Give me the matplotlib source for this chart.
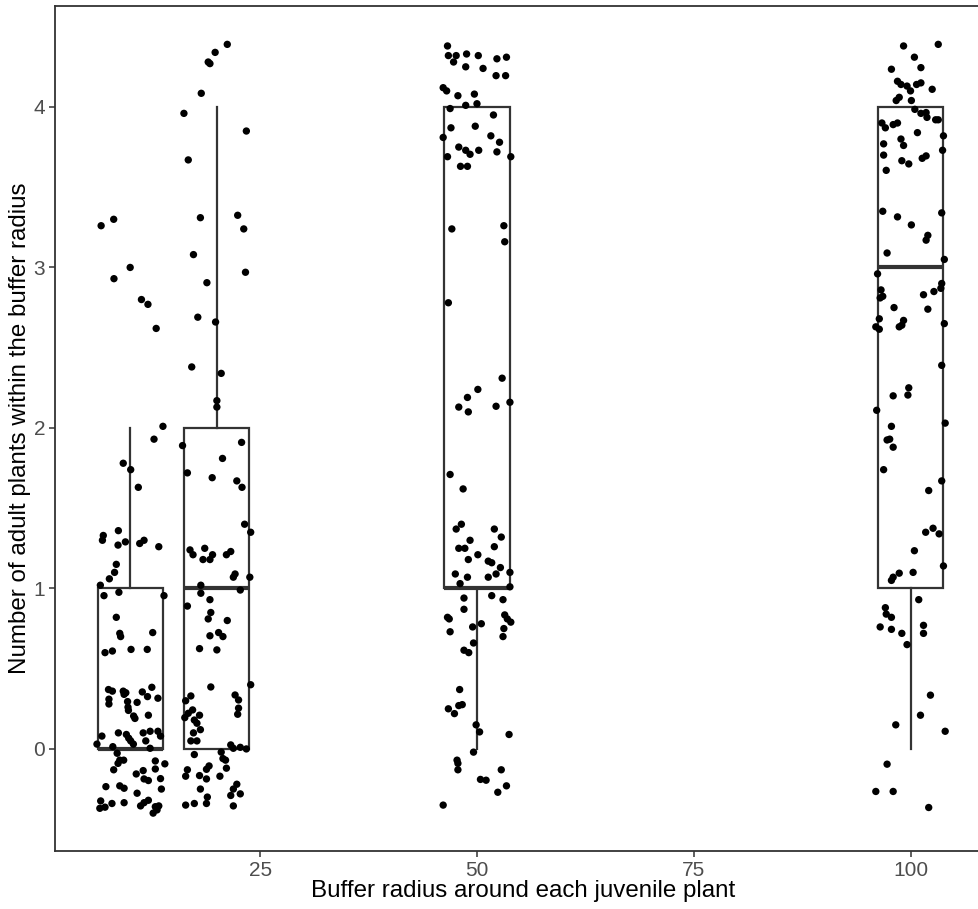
import matplotlib
matplotlib.use("Agg")
import matplotlib.pyplot as plt

# --- box summaries (buffer radius -> counts) ---
box_pos = [10, 20, 50, 100]
box_q1 = [0, 0, 1, 1]
box_med = [0, 1, 1, 3]
box_q3 = [1, 2, 4, 4]
box_lo = [0, 0, 0, 0]
box_hi = [2, 4, 4, 4]

# --- jittered points (x = buffer radius, y = count) ---
g10_x = [6.65, 8.1, 10.0, 8.13, 11.3, 12.05, 13.0,
         13.78, 12.75, 9.2, 10.06, 10.94,
         8.64, 6.9, 6.8, 8.6, 9.45, 11.1, 11.6, 13.3, 8.4, 8.2, 7.6, 6.56,
         6.98, 8.7, 13.9, 8.4, 8.8, 8.9, 12.6, 7.1, 7.95, 10.1, 11.97,
         7.5, 7.95, 7.55, 7.55, 9.2, 9.5, 9.3, 9.7, 9.75, 9.8, 10.8, 10.4,
         10.55, 11.4, 12.0, 12.5, 13.2, 12.1,
         6.17, 6.74, 8.64, 9.56, 9.83, 10.06, 10.37, 8.0, 11.5, 12.3, 11.8,
         12.3, 13.2, 13.5, 8.5, 8.8, 9.25, 8.6, 8.1, 12.9, 14.0, 12.9, 10.7,
         11.5, 11.6, 12.1, 13.5, 7.2, 8.8, 9.3, 13.6, 10.8, 6.6, 6.5, 7.1,
         7.9, 9.3, 11.2, 11.6, 12.1, 12.9, 13.3, 12.65, 13.1]
g10_y = [3.26, 3.30, 3.0, 2.93, 2.80, 2.77, 2.62,
         2.01, 1.93, 1.78, 1.74, 1.63,
         1.36, 1.33, 1.30, 1.27, 1.29, 1.28, 1.30, 1.26, 1.15, 1.10, 1.06, 1.02,
         0.955, 0.976, 0.955, 0.82, 0.72, 0.70, 0.725, 0.60, 0.61, 0.62, 0.62,
         0.37, 0.36, 0.31, 0.28, 0.36, 0.35, 0.34, 0.295, 0.26, 0.24, 0.29, 0.205,
         0.19, 0.355, 0.326, 0.384, 0.316, 0.21,
         0.03, 0.08, 0.10, 0.09, 0.067, 0.05, 0.03, 0.014, 0.10, 0.11, 0.05,
         0.004, 0.11, 0.08, -0.027, -0.07, -0.07, -0.09, -0.13, -0.075, -0.093,
         -0.125, -0.156, -0.135, -0.187, -0.197, -0.185, -0.235, -0.23, -0.245,
         -0.25, -0.276, -0.324, -0.37, -0.363, -0.34, -0.335, -0.355, -0.335,
         -0.32, -0.36, -0.355, -0.40, -0.38]

g20_x = [21.2, 19.8, 19.0, 19.2, 18.2, 16.2,
         23.4, 16.7, 18.1, 22.4, 23.1, 17.3, 23.3, 18.85, 17.8, 19.85,
         20.0, 20.0, 16.04, 22.85, 20.65, 16.6, 19.46, 22.3, 22.9, 17.1, 20.5,
         23.2, 23.9, 16.9, 17.25, 18.6, 18.4, 19.2, 19.5, 21.1, 21.6, 22.1,
         21.9, 23.8, 22.7, 18.15, 18.15, 19.2, 16.6, 19.3, 19.0, 21.2, 20.2,
         20.7, 19.2, 18.0, 20.0,
         19.3, 23.9, 22.1, 22.5, 22.5, 22.4, 17.0, 16.4, 17.2, 16.7, 16.3, 17.4,
         17.7, 18.1, 18.0, 17.3, 17.0, 17.7, 21.6, 21.9, 22.7, 23.4, 20.5, 20.7,
         21.0, 17.4, 21.1, 19.1, 18.8, 16.6, 16.4, 18.0, 18.8, 20.35, 18.1,
         22.3, 21.9, 22.7, 21.6, 18.9, 18.8, 16.4, 17.4, 21.9]
g20_y = [4.39, 4.34, 4.28, 4.27, 4.085, 3.96,
         3.85, 3.67, 3.31, 3.325, 3.24, 3.08, 2.97, 2.905, 2.69, 2.66,
         2.17, 2.13, 1.89, 1.91, 1.81, 1.72, 1.69, 1.67, 1.63, 2.38, 2.34,
         1.40, 1.35, 1.24, 1.21, 1.25, 1.18, 1.18, 1.21, 1.21, 1.23, 1.09,
         1.07, 1.07, 0.99, 1.02, 0.97, 0.93, 0.89, 0.85, 0.81, 0.80, 0.725,
         0.70, 0.705, 0.625, 0.617,
         0.386, 0.40, 0.336, 0.305, 0.254, 0.216, 0.33, 0.30, 0.243, 0.222, 0.195,
         0.18, 0.16, 0.12, 0.21, 0.10, 0.05, 0.05, 0.025, 0.004, 0.01, 0.0, -0.02,
         -0.06, -0.07, -0.035, -0.12, -0.106, -0.127, -0.13, -0.17, -0.166,
         -0.187, -0.17, -0.25, -0.22, -0.25, -0.28, -0.29, -0.30, -0.34, -0.35,
         -0.34, -0.355]

g50_x = [46.6, 46.7, 47.3, 47.6, 48.8, 50.15, 52.3, 53.4, 48.7, 50.7,
         52.2, 53.3, 46.1, 46.5, 47.8, 49.7, 48.7, 50.0, 46.9, 51.9, 47.0, 49.8,
         46.1, 51.6, 52.6, 47.9, 48.7, 49.2, 50.2, 52.3, 46.6, 53.9, 48.1, 48.9,
         47.1, 53.1, 53.2, 46.7,
         52.9, 50.1, 48.9, 47.9, 49.0, 52.2, 53.8, 46.9, 48.4,
         47.6, 48.2, 52.0, 52.8, 52.0, 49.2, 47.9, 48.6, 49.0, 50.1, 51.3, 51.7,
         52.7, 52.2, 47.5, 48.9, 48.05, 51.3, 53.8, 53.8, 51.7, 48.5, 48.5, 53.0,
         46.6, 46.8, 46.9, 53.2, 53.5, 53.9, 49.5, 50.5, 53.1, 53.0, 49.6, 48.5,
         49.05,
         48.0, 46.7, 47.4, 47.9, 48.3, 49.9, 50.3, 53.7, 49.6, 47.7, 47.8, 47.8,
         52.8, 50.4, 51.05, 53.4, 52.4, 46.1]
g50_y = [4.38, 4.32, 4.28, 4.32, 4.33, 4.32, 4.30, 4.31, 4.25, 4.24,
         4.195, 4.195, 4.12, 4.10, 4.07, 4.08, 4.01, 4.02, 3.99, 3.95, 3.87, 3.88,
         3.81, 3.82, 3.78, 3.75, 3.73, 3.705, 3.73, 3.72, 3.69, 3.69, 3.63, 3.63,
         3.24, 3.26, 3.16, 2.78,
         2.31, 2.24, 2.19, 2.13, 2.10, 2.135, 2.16, 1.71, 1.62,
         1.37, 1.40, 1.37, 1.32, 1.26, 1.30, 1.25, 1.25, 1.18, 1.21, 1.17, 1.16,
         1.13, 1.09, 1.09, 1.07, 1.03, 1.07, 1.10, 1.01, 0.955, 0.94, 0.87, 0.93,
         0.82, 0.81, 0.73, 0.835, 0.81, 0.79, 0.76, 0.78, 0.75, 0.70, 0.66, 0.615,
         0.60,
         0.37, 0.25, 0.22, 0.27, 0.276, 0.15, 0.106, 0.09, -0.02, -0.07, -0.09,
         -0.13, -0.13, -0.19, -0.195, -0.23, -0.27, -0.35]

g100_x = [99.2, 103.2, 100.45, 97.8, 101.2,
          98.5, 98.9, 99.6, 100.0, 100.7, 101.2, 102.5, 98.35, 98.7, 100.1,
          100.5, 101.2, 101.8, 101.9, 102.9, 103.2, 96.7, 97.1, 98.0, 98.5,
          100.8, 98.9, 99.2, 103.8, 96.9, 103.7, 96.9, 99.0, 99.8, 101.35, 101.8,
          97.2,
          96.8, 98.5, 100.1, 103.6, 102.0, 101.8, 97.3, 103.9, 96.2, 96.6, 96.8,
          96.5, 102.7, 103.5, 103.6, 101.5, 98.1, 102.0, 96.4, 96.0, 96.4, 99.2,
          99.0, 98.7, 103.9,
          103.6, 98.0, 99.8, 99.7, 96.1, 97.8, 97.3, 97.6, 98.0, 104.0, 96.9,
          103.6, 102.1,
          101.75, 102.6, 103.3, 100.45, 103.8, 97.8, 98.0, 98.7, 100.3, 100.95,
          97.1, 97.2, 97.8, 96.5, 97.8, 99.0, 101.5, 101.5, 99.6,
          102.3, 101.15, 98.3, 104.0, 97.3, 96.0, 98.0, 102.1]
g100_y = [4.38, 4.39, 4.31, 4.235, 4.245,
          4.16, 4.14, 4.13, 4.10, 4.14, 4.15, 4.11, 4.04, 4.06, 4.04,
          3.985, 3.96, 3.965, 3.935, 3.92, 3.92, 3.90, 3.87, 3.89, 3.90,
          3.84, 3.80, 3.76, 3.82, 3.77, 3.73, 3.70, 3.665, 3.645, 3.68, 3.695,
          3.605,
          3.35, 3.315, 3.265, 3.34, 3.20, 3.17, 3.09, 3.05, 2.96, 2.86, 2.82,
          2.81, 2.85, 2.87, 2.90, 2.83, 2.75, 2.74, 2.68, 2.63, 2.615, 2.67,
          2.64, 2.63, 2.65,
          2.39, 2.20, 2.25, 2.205, 2.11, 2.01, 1.925, 1.93, 1.88, 2.03, 1.74,
          1.67, 1.61,
          1.35, 1.375, 1.34, 1.235, 1.14, 1.05, 1.07, 1.095, 1.10, 0.93,
          0.88, 0.84, 0.82, 0.76, 0.745, 0.72, 0.77, 0.72, 0.65,
          0.335, 0.21, 0.15, 0.11, -0.095, -0.265, -0.265, -0.365]

x_ticks = [25, 50, 75, 100]
y_ticks = [0, 1, 2, 3, 4]

plt.rcParams["font.family"] = ["Liberation Sans", "DejaVu Sans"]

fig = plt.figure(figsize=(9.79, 9.09), dpi=100)
ax = fig.add_axes([55 / 979, 58 / 909, 924 / 979, 845 / 909])

stats = []
for q1, med, q3, lo, hi in zip(box_q1, box_med, box_q3, box_lo, box_hi):
    stats.append({"q1": q1, "med": med, "q3": q3, "whislo": lo, "whishi": hi,
                  "fliers": []})
ink = "#333333"
ax.bxp(stats, positions=box_pos, widths=7.5, showfliers=False, showcaps=False,
       patch_artist=True,
       boxprops=dict(facecolor="white", edgecolor=ink, linewidth=1.6),
       whiskerprops=dict(color=ink, linewidth=1.6),
       medianprops=dict(color=ink, linewidth=3.0, solid_capstyle="butt"),
       zorder=2)

for xs, ys in [(g10_x, g10_y), (g20_x, g20_y), (g50_x, g50_y), (g100_x, g100_y)]:
    ax.scatter(xs, ys, s=28, color="black", edgecolors="none", zorder=3)

ax.set_xlim(1.33, 107.9)
ax.set_ylim(-0.636, 4.629)
ax.set_xticks(x_ticks)
ax.set_xticklabels([str(v) for v in x_ticks])
ax.set_yticks(y_ticks)
ax.set_yticklabels([str(v) for v in y_ticks])

for side in ["top", "left", "bottom"]:
    ax.spines[side].set_color(ink)
    ax.spines[side].set_linewidth(1.3)
ax.spines["right"].set_visible(False)

ax.tick_params(axis="both", colors=ink, length=4, width=1.1,
               labelsize=15, labelcolor="#4D4D4D", pad=3)

# axis titles placed by hand (the source image is cropped on the right)
ax.set_xlabel("Buffer radius around each juvenile plant", fontsize=17.4,
              color="black")
ax.xaxis.set_label_coords(0.5065, -0.0544, transform=ax.transAxes)
ax.xaxis.label.set_va("baseline")
ax.set_ylabel("Number of adult plants within the buffer radius", fontsize=17.4,
              color="black")
ax.yaxis.set_label_coords(-0.0379, 0.5, transform=ax.transAxes)
ax.yaxis.label.set_va("center")

fig.savefig("out.png", dpi=100)
